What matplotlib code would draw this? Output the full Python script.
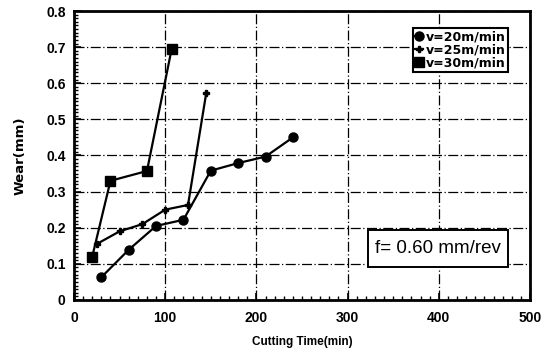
import numpy as np
import matplotlib
matplotlib.use("Agg")
import matplotlib.pyplot as plt
from matplotlib.patches import Rectangle
from matplotlib.ticker import MultipleLocator

plt.rcParams["font.family"] = ["Liberation Sans", "DejaVu Sans"]

# v = 20 m/min (circles)
t20 = [30, 60, 90, 120, 150, 180, 210, 240]
w20 = [0.063, 0.139, 0.205, 0.222, 0.358, 0.379, 0.397, 0.45]
# v = 25 m/min (plus)
t25 = [25, 50, 75, 100, 125, 145]
w25 = [0.155, 0.19, 0.21, 0.25, 0.263, 0.573]
# v = 30 m/min (squares)
t30 = [20, 40, 80, 107]
w30 = [0.12, 0.33, 0.357, 0.694]

labels = ["v=20m/min", "v=25m/min", "v=30m/min"]
xticks = [0, 100, 200, 300, 400, 500]
yticks = [0, 0.1, 0.2, 0.3, 0.4, 0.5, 0.6, 0.7, 0.8]
ytick_labels = ["0", "0.1", "0.2", "0.3", "0.4", "0.5", "0.6", "0.7", "0.8"]

fig = plt.figure(figsize=(5.49, 3.55), dpi=100)
ax = fig.add_axes([0.1348, 0.155, 0.8306, 0.814])

ax.plot(t20, w20, color="black", lw=1.6, marker="o", ms=6.5, label=labels[0])
ax.plot(t25, w25, color="black", lw=1.6, marker="P", ms=5, label=labels[1])
ax.plot(t30, w30, color="black", lw=1.6, marker="s", ms=6.5, label=labels[2])

ax.set_xlim(0, 500)
ax.set_ylim(0, 0.8)
ax.set_xticks(xticks)
ax.set_xticklabels([str(v) for v in xticks])
ax.set_yticks(yticks)
ax.set_yticklabels(ytick_labels)
ax.xaxis.set_minor_locator(MultipleLocator(10))
ax.yaxis.set_minor_locator(MultipleLocator(0.01))
ax.tick_params(which="both", direction="in", top=False, right=False)
ax.tick_params(which="major", length=5, width=1.2, labelsize=10)
ax.tick_params(axis="x", which="major", pad=8)
ax.tick_params(axis="y", which="major", pad=6)
ax.tick_params(which="minor", length=3, width=1)
for lab in ax.get_xticklabels() + ax.get_yticklabels():
    lab.set_fontweight("bold")

ax.grid(True, which="major", color="black", lw=0.9, ls=(0, (8, 2, 1, 2)))
ax.set_axisbelow(True)
for s in ax.spines.values():
    s.set_linewidth(2)

ax.set_xlabel("Cutting Time(min)", fontsize=8.5, fontweight="bold", labelpad=8)
ax.set_ylabel("Wear(mm)", fontsize=9.5, fontweight="bold", labelpad=14,
              family="DejaVu Sans")

leg = ax.legend(loc="upper left", bbox_to_anchor=(0.743, 0.941), fontsize=9,
                prop={"family": "DejaVu Sans", "weight": "bold", "size": 9},
                handlelength=0.6, handletextpad=0.2, borderpad=0.2,
                labelspacing=0.0, fancybox=False, framealpha=1,
                edgecolor="black", borderaxespad=0)
leg.get_frame().set_linewidth(1.5)

ax.add_patch(Rectangle((0.645, 0.114), 0.307, 0.128, transform=ax.transAxes,
                       fc="white", ec="black", lw=1.4, zorder=5))
ax.text(0.7985, 0.178, "f= 0.60 mm/rev", transform=ax.transAxes, ha="center",
        va="center", fontsize=13.5, zorder=6)

fig.savefig("out.png", dpi=100)
